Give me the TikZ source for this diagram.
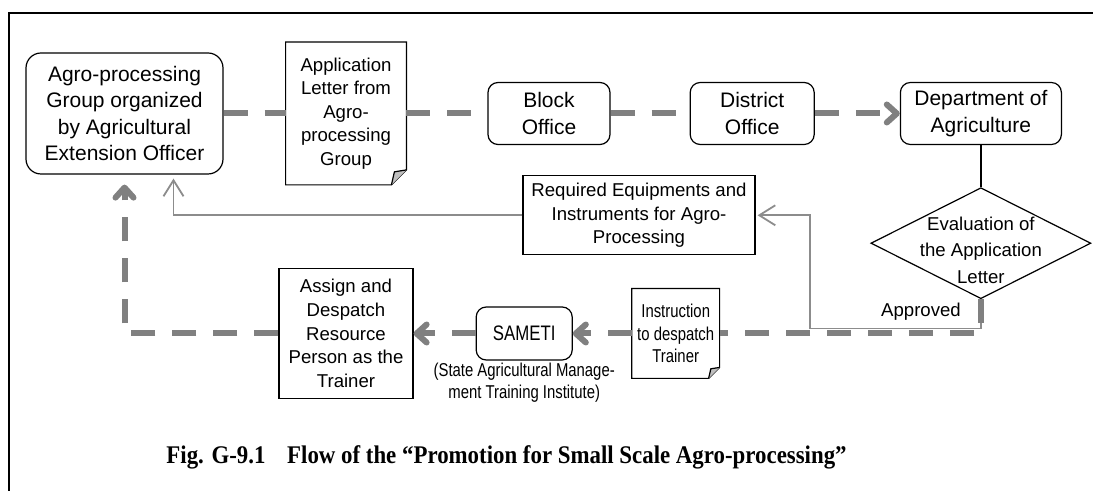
\documentclass[tikz,border=0pt]{standalone}
\usepackage{fontspec}
\setmainfont{Liberation Sans}
\newfontfamily\narrowfont[FakeStretch=0.8]{Liberation Sans}
\newfontfamily\capfont[FakeStretch=0.9]{Liberation Serif}
\usetikzlibrary{positioning,arrows.meta,shapes.geometric}

\begin{document}
\begin{tikzpicture}[x=0.5pt, y=-0.5pt,
  big/.style={font=\fontsize{10.5}{13.3}\selectfont},
  small/.style={font=\fontsize{9.3}{11.8}\selectfont},
  narrow/.style={font=\narrowfont\fontsize{9.3}{11.4}\selectfont},
  office/.style={draw, rounded corners=5pt, align=center, inner sep=1pt,
    line width=0.6pt, big},
  plainbox/.style={draw, align=center, inner sep=1pt, line width=0.6pt, small},
  paper/.style={align=center, inner sep=1pt, small},
  decision/.style={draw, diamond, inner sep=0pt, line width=0.6pt,
    minimum width=110pt, minimum height=55.5pt},
  link/.style={line width=0.6pt},
  flow/.style={draw=gray, line width=3pt, dash pattern=on 12pt off 8.5pt},
  flowtip/.style={-{Straight Barb[length=5pt, width=9pt, round]}},
  back/.style={draw=black!45, line width=0.9pt},
  backtip/.style={-{Straight Barb[length=8pt, width=10pt]}}
]
\useasboundingbox (0,0) rectangle (1093,491);
\draw[line width=1pt] (9,491) -- (9,13) -- (1093,13);

% top row
\node[office, rounded corners=7.5pt, minimum width=98.5pt, minimum height=60.5pt] (grp) at (124.5,113.5) {Agro-processing\\Group organized\\by Agricultural\\Extension Officer};
\node[paper, minimum width=60pt, minimum height=71pt, right=31pt of grp] (letter) {Application\\Letter from\\Agro-\\processing\\Group};
\node[office, minimum width=61pt, minimum height=31pt, right=40.5pt of letter] (block) {Block\\Office};
\node[office, minimum width=62pt, minimum height=31pt, right=39.5pt of block] (dist) {District\\Office};
\node[office, minimum width=80.5pt, minimum height=31pt, right=42.5pt of dist] (dept) {Department of\\Agriculture};
\node[decision, below=21pt of dept] (eval) {};
\node[align=center, inner sep=0pt, font=\fontsize{9.3}{13.3}\selectfont] (evaltxt) at ([yshift=-3.5pt]eval.center) {Evaluation of\\the Application\\Letter};
\node[plainbox, minimum width=116pt, minimum height=39.5pt] (req) at (639,215.3) {Required Equipments and\\Instruments for Agro-\\Processing};

% bottom row
\node[plainbox, minimum width=67pt, minimum height=65pt, below=41.5pt of letter] (assign) {Assign and\\Despatch\\Resource\\Person as the\\Trainer};
\node[office, minimum width=48pt, minimum height=26.5pt, right=31pt of assign, font=\narrowfont\fontsize{10.5}{13}\selectfont] (sameti) {SAMETI};
\node[below=0pt of sameti, align=center, inner sep=1pt, font=\narrowfont\fontsize{9.3}{10.8}\selectfont] (samfull) {(State Agricultural Manage-\\ment Training Institute)};
\node[paper, narrow, minimum width=43.5pt, minimum height=44.5pt, right=29.5pt of sameti] (instr) {Instruction\\to despatch\\Trainer};
\node[small, inner sep=0pt] (ok) at (921,311.7) {Approved};

\node[anchor=base, inner sep=0pt, font=\capfont\bfseries\fontsize{12.7}{15}\selectfont] (cap) at (506.5,463.3) {Fig. G-9.1\hspace{8pt} Flow of the “Promotion for Small Scale Agro-processing”};

% letters with a turned corner
\foreach \n/\s in {letter/7.5pt, instr/5.5pt} {
  \draw[link] (\n.north west) -- (\n.north east) -- ([yshift=\s]\n.south east) -- ([xshift=-\s]\n.south east) -- (\n.south west) -- cycle;
  \filldraw[link, fill=gray!50] ([xshift=-\s]\n.south east) -- ([shift={(-0.8*\s,0.87*\s)}]\n.south east) -- ([yshift=\s]\n.south east);
}

% connectors
\coordinate (turn) at (810,328.5);
\draw[back, backtip, shorten >=1pt] (eval.south) |- (turn) |- (req.east);
\draw[back, backtip, shorten >=2pt] (req.west) -| ([xshift=24.5pt]grp.south);
\draw[link] (dept) -- (eval);
\draw[flow] (grp) -- (letter);
\draw[flow] (letter) -- (block);
\draw[flow] (block) -- (dist);
\draw[flow, flowtip] (dist) -- (dept);
\draw[flow] (eval.south) |- (instr.east);
\draw[flow, flowtip] (instr) -- (sameti);
\draw[flow, flowtip] (sameti) -- (assign);
\draw[flow, flowtip, shorten >=5pt] (assign) -| (grp.south);
\end{tikzpicture}
\end{document}
